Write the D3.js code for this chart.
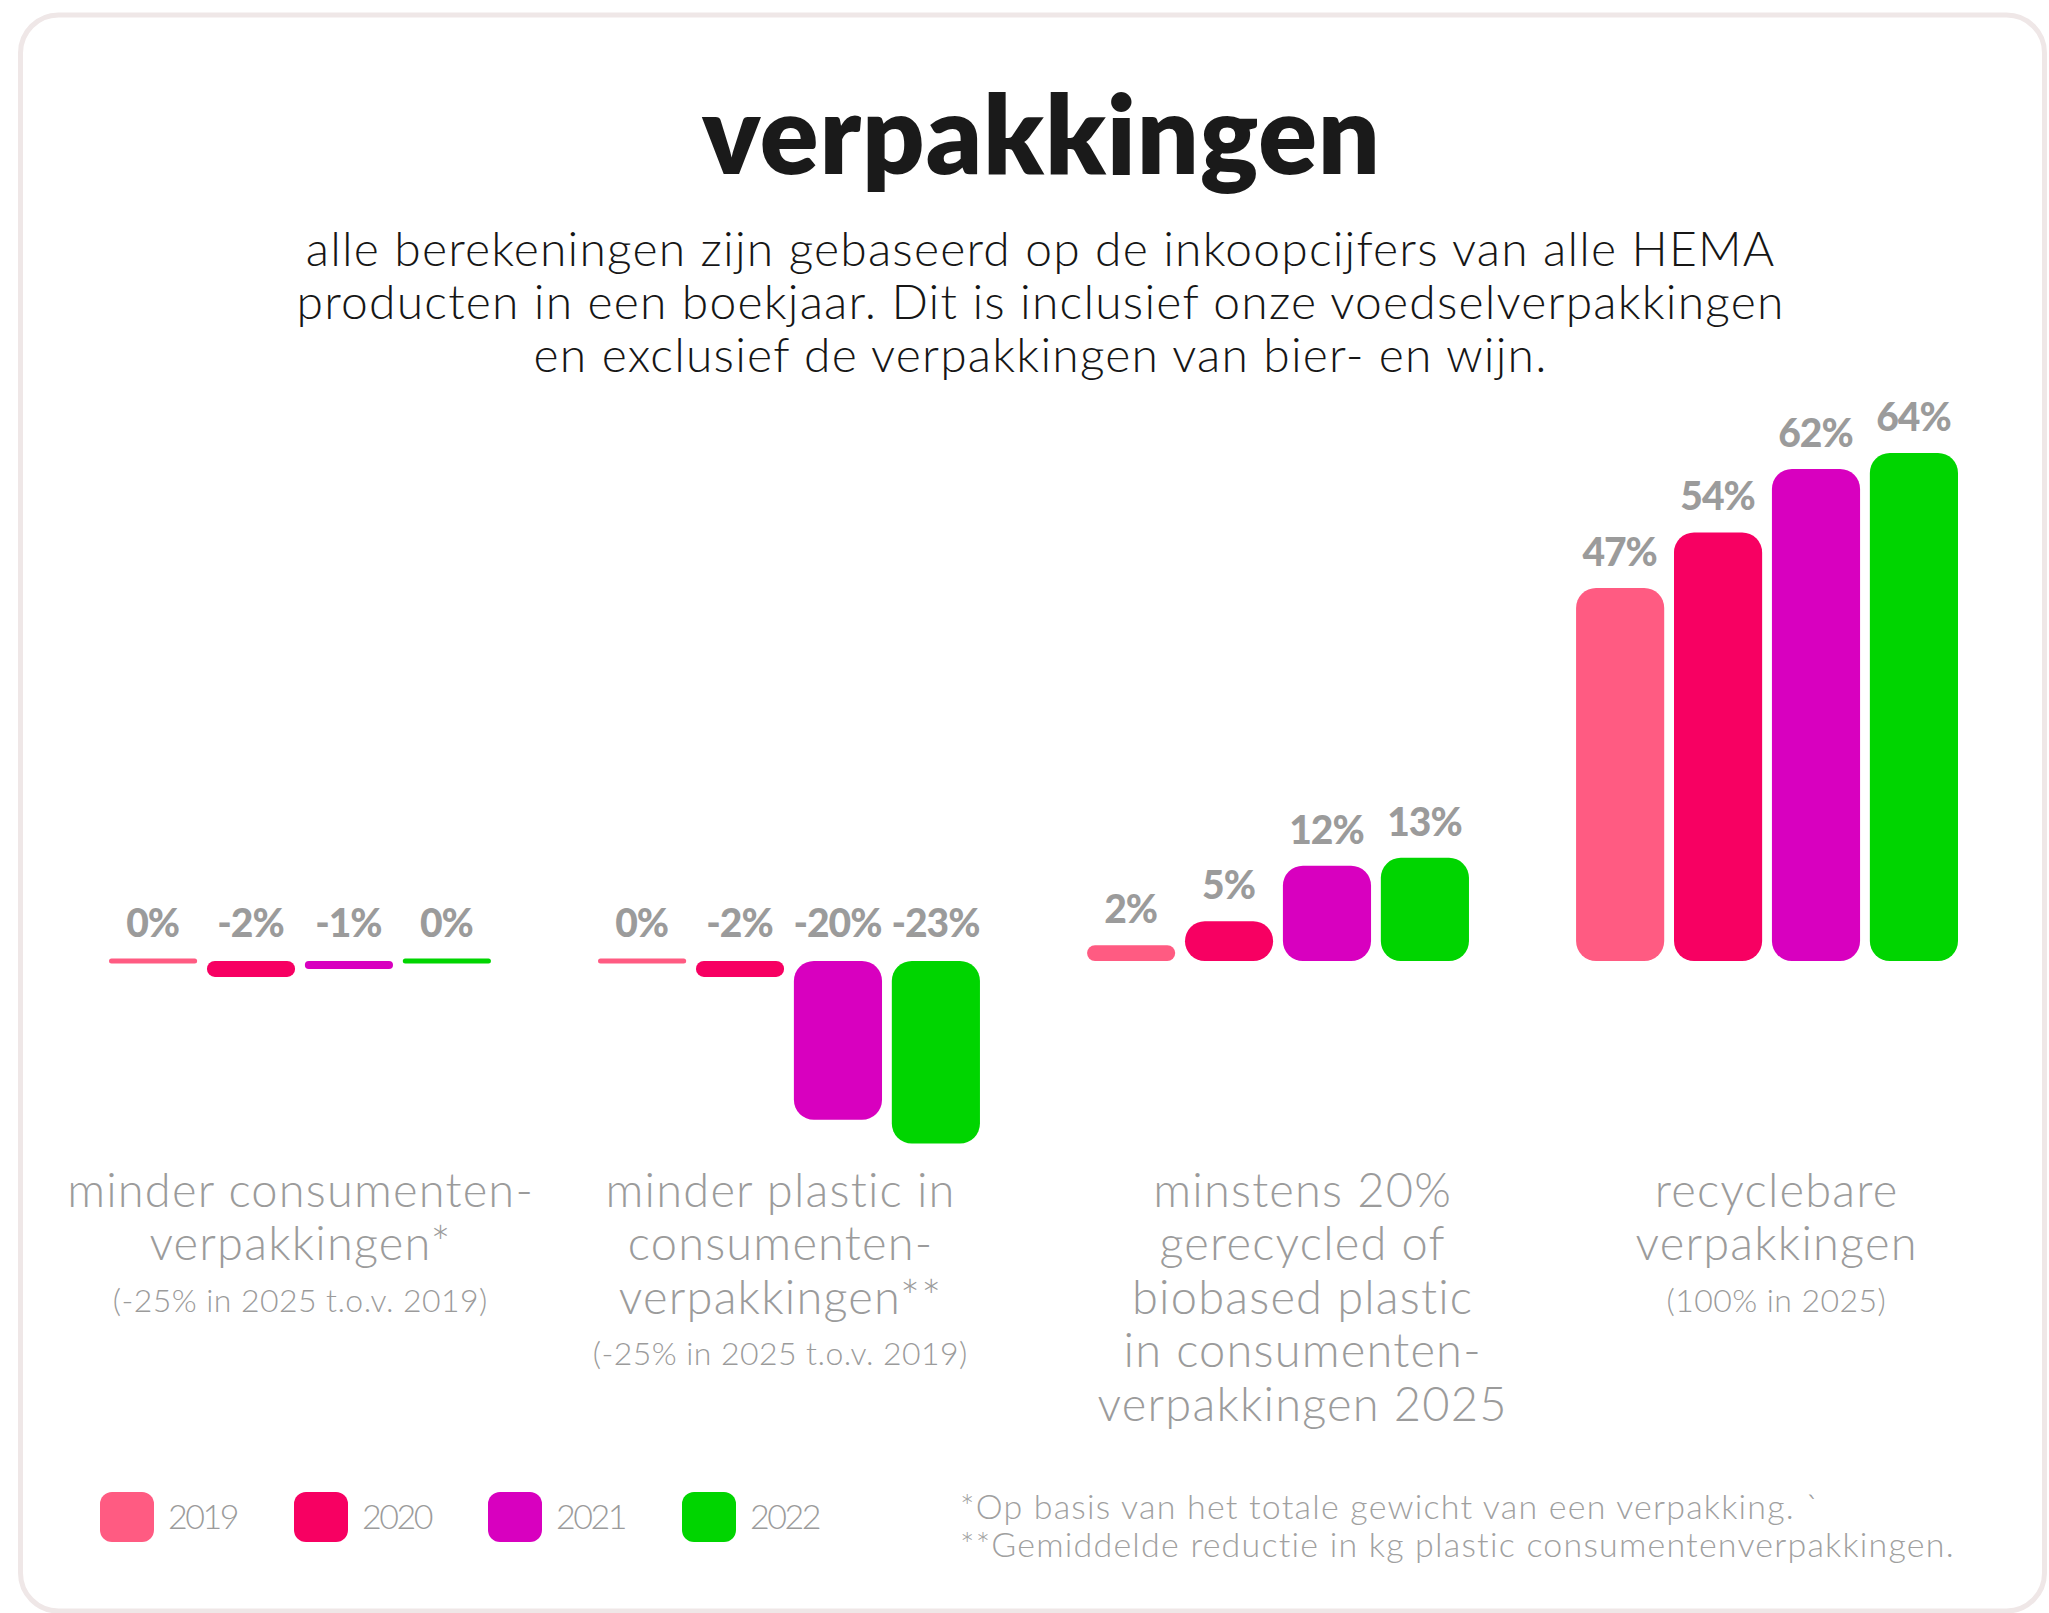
<!DOCTYPE html>
<html>
<head>
<meta charset="utf-8">
<script src="https://cdn.jsdelivr.net/npm/d3@7"></script>
<style>
  body { margin: 0; background: #fff; }
  svg { display: block; }
</style>
</head>
<body>
<div id="chart"></div>
<script>
// ---- data ----
var years = ["2019", "2020", "2021", "2022"];
var goals = ["consumentenverpakkingen", "plastic", "gerecycled", "recyclebaar"];

// percentages per year, one value per goal (same order as goals)
var v2019 = [0, 0, 2, 47];
var v2020 = [-2, -2, 5, 54];
var v2021 = [-1, -20, 12, 62];
var v2022 = [0, -23, 13, 64];

var goalLines = [
    ["minder consumenten-", "verpakkingen*"],
    ["minder plastic in", "consumenten-", "verpakkingen**"],
    ["minstens 20%", "gerecycled of", "biobased plastic", "in consumenten-", "verpakkingen 2025"],
    ["recyclebare", "verpakkingen"]
];
var goalNotes = ["(-25% in 2025 t.o.v. 2019)", "(-25% in 2025 t.o.v. 2019)", "", "(100% in 2025)"];

var yearColors = ["#ff5b82", "#f70062", "#d800bf", "#00d500"];

var title = "verpakkingen";
var subtitle = [
    "alle berekeningen zijn gebaseerd op de inkoopcijfers van alle HEMA",
    "producten in een boekjaar. Dit is inclusief onze voedselverpakkingen",
    "en exclusief de verpakkingen van bier- en wijn."
];
var footnotes = [
    "*Op basis van het totale gewicht van een verpakking. `",
    "**Gemiddelde reductie in kg plastic consumentenverpakkingen."
];

var series = [v2019, v2020, v2021, v2022];

// ---- layout ----
var W = 2049, H = 1613;
var font = "Lato, 'Open Sans', sans-serif";
var grey = "#9b9b9b";

var svg = d3.select("#chart").append("svg")
    .attr("width", W)
    .attr("height", H);

// card
svg.append("rect")
    .attr("x", 20.5).attr("y", 15)
    .attr("width", 2024).attr("height", 1596)
    .attr("rx", 38)
    .attr("fill", "#fff")
    .attr("stroke", "#efe7e7")
    .attr("stroke-width", 5);

// letter spacing needed so that a sample text reaches a width
function calib(size, weight, sample, target) {
    var t = svg.append("text")
        .style("font-family", font)
        .style("font-size", size + "px")
        .style("font-weight", weight)
        .text(sample);
    var w = t.node().getComputedTextLength();
    t.remove();
    return (target - w) / sample.length;
}

// title
var titleLs = calib(109, 800, title, 679);
svg.append("text")
    .attr("x", 1041 + titleLs / 2).attr("y", 174)
    .attr("text-anchor", "middle")
    .style("font-family", font)
    .style("font-size", "109px")
    .style("font-weight", 800)
    .style("letter-spacing", titleLs + "px")
    .attr("fill", "#1a1a1a")
    .text(title);

// subtitle
var subLs = calib(48, 300, subtitle[1], 1488);
svg.append("g").selectAll("text")
    .data(subtitle)
    .enter()
    .append("text")
    .attr("x", 1040 + subLs / 2)
    .attr("y", function(d, i) { return 266 + i * 53; })
    .attr("text-anchor", "middle")
    .style("font-family", font)
    .style("font-size", "48px")
    .style("font-weight", 300)
    .style("letter-spacing", subLs + "px")
    .attr("fill", "#161616")
    .text(function(d) { return d; });

// scales
var x0 = d3.scaleBand()
    .domain(goals)
    .range([109, 1958])
    .paddingInner(0.219);

var x1 = d3.scaleBand()
    .domain(years)
    .range([0, x0.bandwidth()])
    .paddingInner(0.1);

var y = d3.scaleLinear()
    .domain([0, 64])
    .range([961, 453]);

var bars = [];
goals.forEach(function(g, gi) {
    years.forEach(function(yr, yi) {
        bars.push({goal: g, year: yr, yi: yi, value: series[yi][gi]});
    });
});

bars.forEach(function(d) {
    var top = y(Math.max(d.value, 0)),
        bottom = y(Math.min(d.value, 0));
    if (bottom - top < 5) {
        // zero values still get a thin line
        top = y(0) - 2.5;
        bottom = y(0) + 2.5;
    }
    d.top = top;
    d.h = bottom - top;
    d.x = x0(d.goal) + x1(d.year);
});

var valLs = calib(39, 900, "-23%", 88);

var barG = svg.append("g");
barG.selectAll("rect")
    .data(bars)
    .enter()
    .append("rect")
    .attr("x", function(d) { return d.x; })
    .attr("y", function(d) { return d.top; })
    .attr("width", x1.bandwidth())
    .attr("height", function(d) { return d.h; })
    .attr("rx", function(d) { return Math.min(20, d.h / 2); })
    .attr("fill", function(d) { return yearColors[d.yi]; });

barG.selectAll("text")
    .data(bars)
    .enter()
    .append("text")
    .attr("x", function(d) { return d.x + x1.bandwidth() / 2 + valLs / 2; })
    .attr("y", function(d) { return Math.min(d.top, y(0) - 2.5) - 22; })
    .attr("text-anchor", "middle")
    .style("font-family", font)
    .style("font-size", "39px")
    .style("font-weight", 900)
    .style("letter-spacing", valLs + "px")
    .attr("fill", grey)
    .text(function(d) { return d.value + "%"; });

// goal labels under the bars (the design nudges some blocks sideways)
var labelShift = [0, -9, 24, 9];
var catLs = calib(47, 300, "verpakkingen 2025", 410);
var noteLs = calib(32, 300, goalNotes[0], 375);
var lineH = 53.4;

var labelG = svg.append("g").selectAll("g")
    .data(goals)
    .enter()
    .append("g")
    .attr("transform", function(d, i) {
        return "translate(" + (x0(d) + x0.bandwidth() / 2 + labelShift[i]) + ",0)";
    });

labelG.selectAll("text.cat")
    .data(function(d, i) { return goalLines[i]; })
    .enter()
    .append("text")
    .attr("class", "cat")
    .attr("x", catLs / 2)
    .attr("y", function(d, i) { return 1207 + i * lineH; })
    .attr("text-anchor", "middle")
    .style("font-family", font)
    .style("font-size", "47px")
    .style("font-weight", 300)
    .style("letter-spacing", catLs + "px")
    .attr("fill", grey)
    .text(function(d) { return d; });

labelG.append("text")
    .attr("x", noteLs / 2)
    .attr("y", function(d, i) { return 1207 + goalLines[i].length * lineH - 2; })
    .attr("text-anchor", "middle")
    .style("font-family", font)
    .style("font-size", "32px")
    .style("font-weight", 300)
    .style("letter-spacing", noteLs + "px")
    .attr("fill", grey)
    .text(function(d, i) { return goalNotes[i]; });

// legend
var legLs = calib(34, 300, "2019", 69);
var legend = svg.append("g").selectAll("g")
    .data(years)
    .enter()
    .append("g")
    .attr("transform", function(d, i) { return "translate(" + (100 + i * 194) + ",1492)"; });

legend.append("rect")
    .attr("width", 54).attr("height", 50)
    .attr("rx", 12)
    .attr("fill", function(d, i) { return yearColors[i]; });

legend.append("text")
    .attr("x", 68).attr("y", 37)
    .style("font-family", font)
    .style("font-size", "34px")
    .style("font-weight", 300)
    .style("letter-spacing", legLs + "px")
    .attr("fill", grey)
    .text(function(d) { return d; });

// footnotes
var footLs = calib(34, 300, footnotes[1], 996);
svg.append("g").selectAll("text")
    .data(footnotes)
    .enter()
    .append("text")
    .attr("x", 960)
    .attr("y", function(d, i) { return 1519 + i * 38; })
    .style("font-family", font)
    .style("font-size", "34px")
    .style("font-weight", 300)
    .style("letter-spacing", footLs + "px")
    .attr("fill", "#a0a0a0")
    .text(function(d) { return d; });
</script>
</body>
</html>
